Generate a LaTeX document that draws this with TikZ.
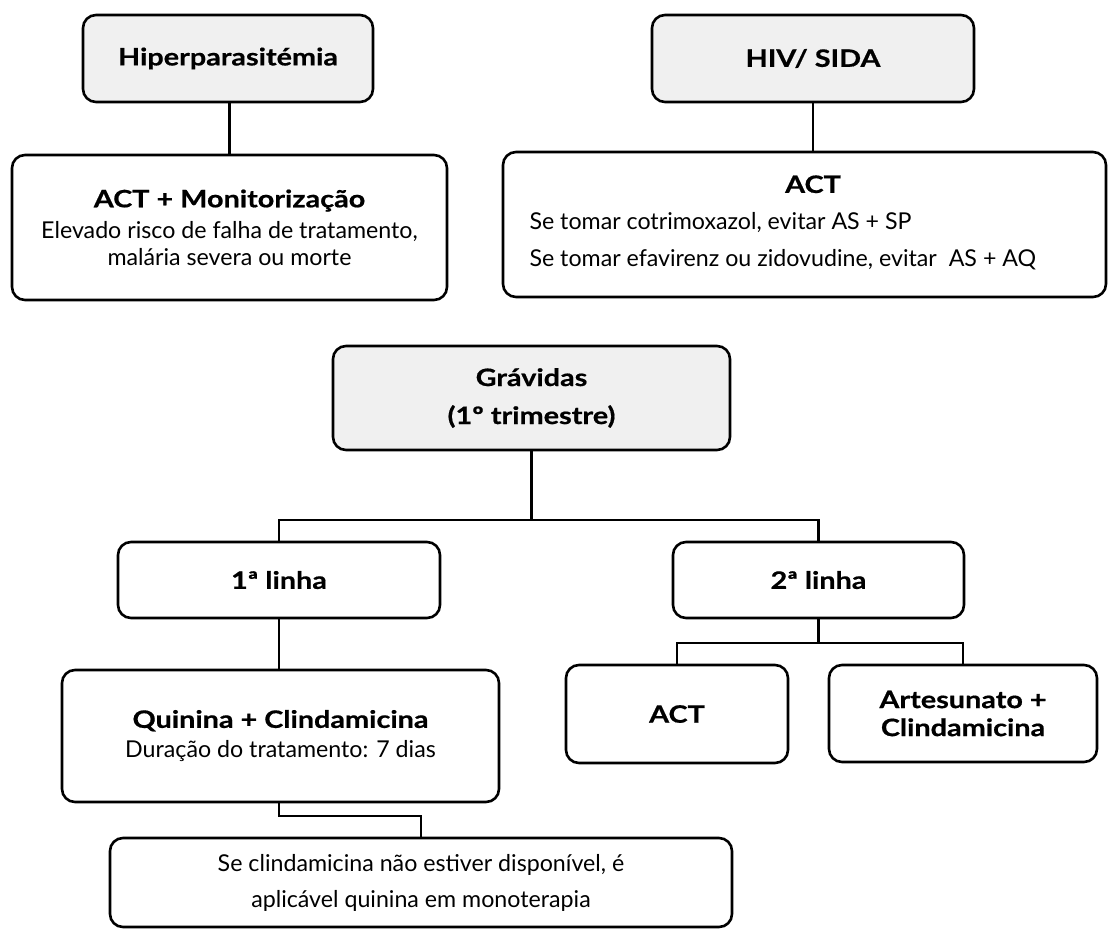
\documentclass[tikz,border=0pt]{standalone}
\usepackage{fontspec}
\setmainfont{Lato}
\newfontfamily\bfnt{Lato}[FakeStretch=1.2, FakeBold=0.6]
\definecolor{boxgray}{HTML}{F0F0F0}
\newcommand\tb[1]{{\bfnt\bfseries\fontsize{24}{28}\selectfont #1}}
\tikzset{
  box/.style={draw=black, line width=2.6pt, rounded corners=13pt, fill=white,
    inner sep=0pt, align=center, font=\fontsize{23.2}{27}\selectfont},
  graybox/.style={box, fill=boxgray},
  conn/.style={draw=black, line width=2.3pt},
}
\begin{document}
\begin{tikzpicture}[x=1pt, y=-1pt]
\useasboundingbox (0,0) rectangle (1108,930);

% top-left branch
\node[graybox, minimum width=290, minimum height=87] (hip) at (228,58.5) {\tb{Hiperparasitémia}};
\node[box, minimum width=435, minimum height=145] (actm) at (229.5,227.5)
  {\tb{ACT + Monitorização}\\[4pt] Elevado risco de falha de tratamento,\\ malária severa ou morte};

% top-right branch
\node[graybox, minimum width=322, minimum height=87] (hiv) at (813,58.5) {\tb{HIV/ SIDA}};
\node[box, minimum width=603, minimum height=145] (hact) at (804.5,224.5)
  {\begin{tabular}{@{}p{550pt}@{}}\multicolumn{1}{@{}c@{}}{\hspace*{17pt}\tb{ACT}}\\[10pt]
   Se tomar cotrimoxazol, evitar AS + SP\\[10pt]
   Se tomar efavirenz ou zidovudine, evitar\ \ AS + AQ\end{tabular}};

% pregnancy tree
\node[graybox, minimum width=397, minimum height=104] (grav) at (531.5,398)
  {\tb{Grávidas}\\[11pt]\tb{(1º trimestre)}};
\node[box, minimum width=322, minimum height=76] (l1) at (279,580) {\tb{1ª linha}};
\node[box, minimum width=291, minimum height=76] (l2) at (818.5,580) {\tb{2ª linha}};
\node[box, minimum width=437, minimum height=132] (quin) at (280.5,736)
  {\tb{Quinina + Clindamicina}\\[3pt] Duração do tratamento: 7 dias};
\node[box, minimum width=222, minimum height=98] (act2) at (677,714) {\tb{ACT}};
\node[box, minimum width=268, minimum height=97] (art) at (963,713.5)
  {\tb{Artesunato +}\\[1pt]\tb{Clindamicina}};
\node[box, minimum width=622, minimum height=89] (se) at (421,882.5)
  {Se clindamicina não estiver disponível, é\\[9pt] aplicável quinina em monoterapia};

% junction coordinates
\coordinate (gj) at (531.5,520);
\coordinate (l2j) at (818.5,643);
\coordinate (qj) at (421,816);

% connectors
\draw[conn] (hip.south -| actm.north) -- (actm.north);
\draw[conn] (hiv.south) -- (hiv.south |- hact.north);
\draw[conn] (grav.south) -- (gj);
\draw[conn] (l1.north) |- (gj) -| (l2.north);
\draw[conn] (l1.south) -- (l1.south |- quin.north);
\draw[conn] (l2.south) -- (l2j);
\draw[conn] (act2.north) |- (l2j) -| (art.north);
\draw[conn] (l1.south |- quin.south) |- (qj) -- (se.north);
\end{tikzpicture}
\end{document}
